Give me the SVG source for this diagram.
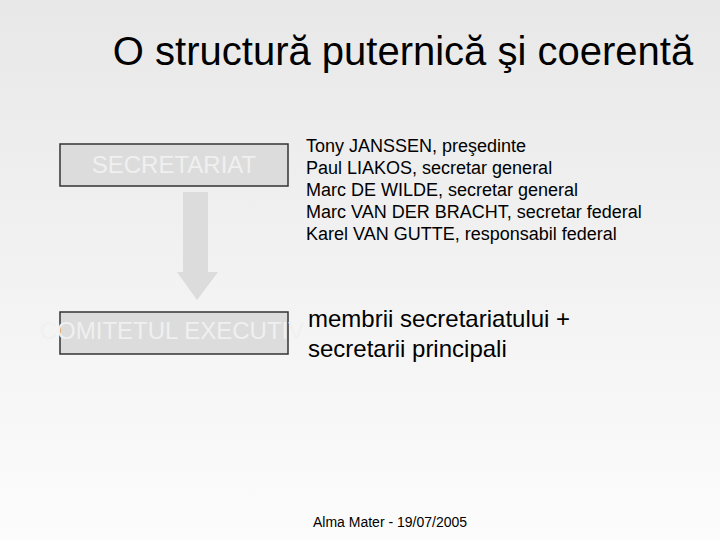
<svg xmlns="http://www.w3.org/2000/svg" width="720" height="540" viewBox="0 0 720 540">
<defs>
<linearGradient id="bg" x1="0" y1="0" x2="0" y2="1">
<stop offset="0" stop-color="#e8e8e8"/>
<stop offset="1" stop-color="#fcfcfc"/>
</linearGradient>
<style>
text{font-family:"Liberation Sans",Arial,sans-serif}
.box{fill:#dcdcdc;stroke:#333;stroke-width:1.5}
.blabel{fill:#f0f0f0;font-size:24px;text-anchor:middle}
.list{fill:#000;font-size:18px}
.big{fill:#000;font-size:24px}
</style>
</defs>
<rect width="720" height="540" fill="url(#bg)"/>
<text x="403" y="65" font-size="40" text-anchor="middle" fill="#000">O structură puternică şi coerentă</text>
<g id="connectors">
<polygon points="183,192 208,192 208,272 218,272 197,300 177,272 183,272" fill="#dcdcdc"/>
</g>
<g id="secretariat">
<rect class="box" x="60" y="144" width="228" height="42"/>
<text class="blabel" x="174" y="173">SECRETARIAT</text>
</g>
<g id="comitetul">
<rect class="box" x="60" y="312" width="228" height="42"/>
<text class="blabel" x="172" y="339" font-size="25">COMITETUL EXECUTIV</text>
</g>
<g id="members">
<text class="list" x="306" y="152">Tony JANSSEN, preşedinte</text>
<text class="list" x="306" y="174">Paul LIAKOS, secretar general</text>
<text class="list" x="306" y="196">Marc DE WILDE, secretar general</text>
<text class="list" x="306" y="218">Marc VAN DER BRACHT, secretar federal</text>
<text class="list" x="306" y="240">Karel VAN GUTTE, responsabil federal</text>
</g>
<g id="exec-members">
<text class="big" x="308" y="327">membrii secretariatului +</text>
<text class="big" x="308" y="357">secretarii principali</text>
</g>
<text x="313" y="527" font-size="14" fill="#000">Alma Mater - 19/07/2005</text>
</svg>
